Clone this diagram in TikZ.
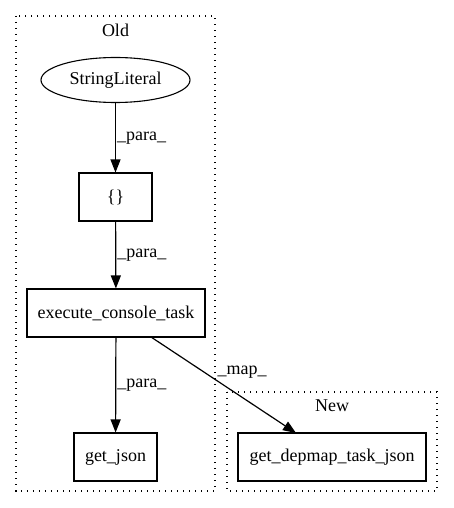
\documentclass[tikz,border=0pt]{standalone}
\usepackage{fontspec}
\setmainfont{Liberation Serif}
\usetikzlibrary{arrows.meta,shapes.geometric}
\begin{document}
\begin{tikzpicture}[x=1pt,y=-1pt,
  every node/.style={font=\fontsize{18pt}{21pt}\selectfont},
  box/.style={draw,line width=1.1pt,rectangle,minimum height=48pt,inner sep=0pt},
  oval/.style={draw,line width=1.1pt,ellipse,minimum width=149pt,minimum height=45pt,inner sep=0pt},
  cluster/.style={draw,line width=1.3pt,dash pattern=on 1.4pt off 4.6pt},
  edge/.style={line width=1.2pt,-{Triangle[length=13pt,width=10pt]}},
  lbl/.style={inner sep=0pt}]
\useasboundingbox (0,0) rectangle (453,508);
\draw[cluster] (16,16) rectangle (215,491);
\draw[cluster] (227,392) rectangle (437,491);
\node[lbl] (old) at (115.5,30) {Old};
\node[lbl] (new) at (332,406) {New};
\node[oval] (sl) at (115.5,80) {StringLiteral};
\node[box,minimum width=73pt] (br) at (115.5,197) {\{\}};
\node[box,minimum width=178pt] (ect) at (116,313) {execute\_console\_task};
\node[box,minimum width=83pt] (gj) at (115.5,457) {get\_json};
\node[box,minimum width=188pt] (gd) at (332,457) {get\_depmap\_task\_json};
\draw[edge] (sl) -- (br) node[lbl,pos=0.5,right=1pt] {\_para\_};
\draw[edge] (br) -- (ect) node[lbl,pos=0.5,right=1pt] {\_para\_};
\draw[edge] (ect) -- (gj) node[lbl,pos=0.5,right=1pt] {\_para\_};
\coordinate (ms) at (151,337);
\coordinate (me) at (296,433);
\draw[edge] (ms) -- (me);
\node[lbl] (ml) at (242,372) {\_map\_};
\end{tikzpicture}
\end{document}
